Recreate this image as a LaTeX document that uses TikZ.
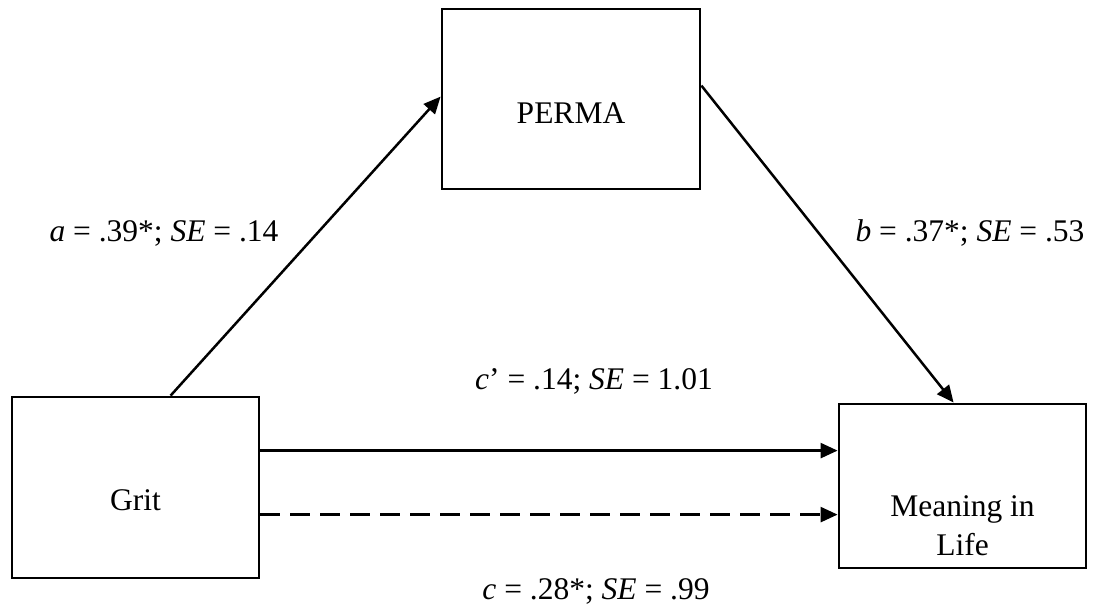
\documentclass[tikz,border=0pt]{standalone}
\usepackage{fontspec}
\setmainfont{Liberation Serif}
\usetikzlibrary{arrows.meta,calc}
\begin{document}
\begin{tikzpicture}[x=0.5pt,y=-0.5pt,
  box/.style={draw=black,line width=1.4pt,rectangle,inner sep=0pt,fill=white},
  lbl/.style={font=\fontsize{15.75}{19.5}\selectfont,inner sep=0pt,anchor=base},
  arr/.style={line width=1.25pt,-{Triangle[length=8.5pt,width=7.5pt]}},
  dsh/.style={dash pattern=on 10pt off 5pt}]
\useasboundingbox[fill=white] (0,0) rectangle (1100,616);
% boxes
\node[box,minimum width=123.5pt,minimum height=90.5pt] (grit) at (135.5,487.5) {};
\node[box,minimum width=129pt,minimum height=90pt] (perma) at (571,99) {};
\node[box,minimum width=123.5pt,minimum height=82pt] (meaning) at (962.5,486) {};
% box texts
\node[lbl] (tperma) at (571,123) {PERMA};
\node[lbl] (tgrit) at (135.5,510.7) {Grit};
\node[lbl,align=center] (tmeaning) at (962.5,555.7) {Meaning in\\Life};
% connector end points
\coordinate (a1) at ($(grit.north west)+(160,0)$);
\coordinate (a2) at ($(perma.north west)+(0,89)$);
\coordinate (b1) at ($(perma.north east)+(0,78)$);
\coordinate (b2) at ($(meaning.north west)+(116,0)$);
\coordinate (s1) at ($(grit.north east)+(0,55)$);
\coordinate (d1) at ($(grit.north east)+(0,119)$);
% connectors
\draw[arr] (a1) -- (a2);
\draw[arr] (b1) -- (b2);
\draw[arr] (s1) -- (s1 -| meaning.west);
\draw[arr,dsh] (d1) -- (d1 -| meaning.west);
% path labels
\node[lbl] (la) at (164,241.7) {\textit{a} = .39*; \textit{SE} = .14};
\node[lbl] (lb) at (970,241.7) {\textit{b} = .37*; \textit{SE} = .53};
\node[lbl] (lc1) at (594,389) {\textit{c}’ = .14; \textit{SE} = 1.01};
\node[lbl] (lc) at (596,599) {\textit{c} = .28*; \textit{SE} = .99};
\end{tikzpicture}
\end{document}
